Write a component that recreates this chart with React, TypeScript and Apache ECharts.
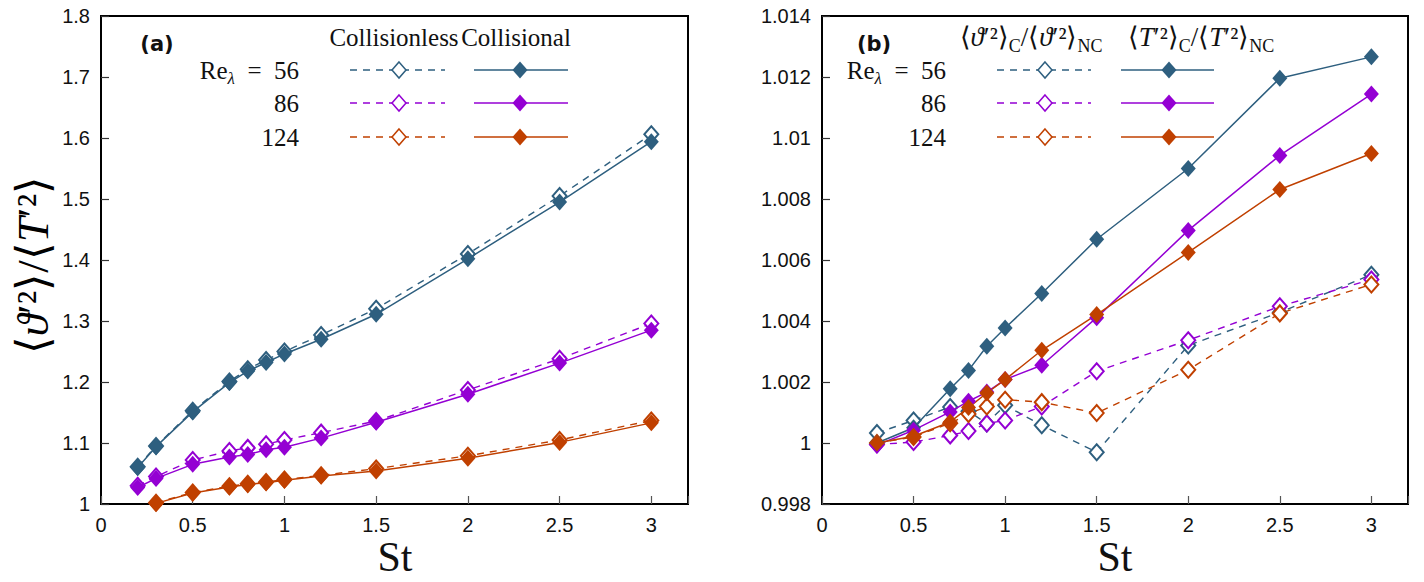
import React, { useEffect, useRef } from "react";
import * as echarts from "echarts";

// ---------- data ----------
const ST_A = [0.2, 0.3, 0.5, 0.7, 0.8, 0.9, 1.0, 1.2, 1.5, 2, 2.5, 3];
const ST_A124 = [0.3, 0.5, 0.7, 0.8, 0.9, 1.0, 1.2, 1.5, 2, 2.5, 3];
const ST_B = [0.3, 0.5, 0.7, 0.8, 0.9, 1.0, 1.2, 1.5, 2, 2.5, 3];

// panel (a): <theta'^2>/<T'^2>
const A_NC56 = [1.061, 1.095, 1.153, 1.201, 1.221, 1.236, 1.25, 1.277, 1.32, 1.41, 1.505, 1.606];
const A_C56 = [1.06, 1.094, 1.151, 1.199, 1.218, 1.232, 1.246, 1.27, 1.311, 1.402, 1.495, 1.594];
const A_NC86 = [1.03, 1.045, 1.072, 1.087, 1.092, 1.098, 1.105, 1.117, 1.136, 1.187, 1.238, 1.296];
const A_C86 = [1.027, 1.042, 1.065, 1.077, 1.081, 1.089, 1.093, 1.108, 1.134, 1.18, 1.231, 1.285];
const A_NC124 = [1.002, 1.019, 1.029, 1.033, 1.036, 1.04, 1.047, 1.058, 1.079, 1.105, 1.137];
const A_C124 = [1.001, 1.018, 1.028, 1.032, 1.035, 1.039, 1.046, 1.054, 1.075, 1.101, 1.133];

// panel (b): collisional / non-collisional ratios
const B_TH56 = [1.00033, 1.00074, 1.00118, 1.00104, 1.00064, 1.00124, 1.00058, 0.9997, 1.0032, 1.00428, 1.00552];
const B_T56 = [1.0, 1.0005, 1.00178, 1.00238, 1.00317, 1.00377, 1.0049, 1.00668, 1.009, 1.01196, 1.01266];
const B_TH86 = [0.99995, 1.00003, 1.00025, 1.00039, 1.00064, 1.00074, 1.0012, 1.00235, 1.00337, 1.00448, 1.00536];
const B_T86 = [0.99993, 1.00042, 1.00102, 1.00137, 1.00167, 1.00208, 1.00255, 1.00411, 1.00697, 1.00943, 1.01144];
const B_TH124 = [1.0, 1.0002, 1.00065, 1.00095, 1.0012, 1.00142, 1.00134, 1.00098, 1.0024, 1.00425, 1.0052];
const B_T124 = [1.0, 1.00022, 1.00069, 1.00116, 1.00164, 1.00208, 1.00304, 1.00421, 1.00625, 1.00831, 1.00949];

const RE_LABELS = ["56", "86", "124"];
const COLORS = ["#2e5f7f", "#9400d3", "#c04000"];
const X_TICKS_MAX = 3;

const SERIF = "Liberation Serif";
const SANS = "Liberation Sans";

const pairs = (xs: number[], ys: number[]) => xs.map((x, i) => [x, ys[i]]);

const DASH = [7, 6];

function hollow(xi: number, data: number[][], color: string) {
  return {
    type: "line",
    xAxisIndex: xi,
    yAxisIndex: xi,
    data,
    symbol: "emptyDiamond",
    symbolSize: [14, 16],
    lineStyle: { color, width: 1.4, type: DASH },
    itemStyle: { color, borderColor: color, borderWidth: 1.5 },
    emphasis: { disabled: true },
    z: 2,
  };
}
function filled(xi: number, data: number[][], color: string) {
  return {
    type: "line",
    xAxisIndex: xi,
    yAxisIndex: xi,
    data,
    symbol: "diamond",
    symbolSize: [15, 17],
    lineStyle: { color, width: 1.5, type: "solid" },
    itemStyle: { color, borderWidth: 0 },
    emphasis: { disabled: true },
    z: 3,
  };
}

const fmt = (v: number) => String(parseFloat(v.toFixed(4)));

function xAxis(gi: number) {
  return {
    type: "value",
    gridIndex: gi,
    min: 0,
    max: 3.2,
    interval: 0.5,
    axisLine: { show: true, onZero: false, lineStyle: { color: "#000", width: 2 } },
    axisTick: { show: true, inside: true, length: 8, lineStyle: { color: "#555", width: 1.2 } },
    axisLabel: {
      margin: 11,
      fontFamily: SANS,
      fontSize: 20,
      color: "#111",
      formatter: (v: number) => (v > X_TICKS_MAX + 0.01 ? "" : fmt(v)),
    },
    splitLine: { show: false },
  };
}
function yAxis(gi: number, min: number, max: number, interval: number) {
  return {
    type: "value",
    gridIndex: gi,
    min,
    max,
    interval,
    axisLine: { show: true, onZero: false, lineStyle: { color: "#000", width: 2 } },
    axisTick: { show: true, inside: true, length: 8, lineStyle: { color: "#333", width: 1.2 } },
    axisLabel: { margin: 11, fontFamily: SANS, fontSize: 20, color: "#111", formatter: fmt },
    splitLine: { show: false },
  };
}

function richSet(size: number) {
  const sub = Math.round(size * 0.68);
  return {
    n: { fontFamily: SERIF, fontSize: size, color: "#111", lineHeight: size + 8 },
    i: { fontFamily: SERIF, fontSize: size, fontStyle: "italic", color: "#111", lineHeight: size + 8 },
    s: { fontFamily: SERIF, fontSize: sub, color: "#111", lineHeight: 12, verticalAlign: "bottom" },
    si: { fontFamily: SERIF, fontSize: sub, fontStyle: "italic", color: "#111", lineHeight: 12, verticalAlign: "bottom" },
  };
}

function legendGraphics(cfg: {
  tag: string; tagX: number;
  headers: { text: string; x: number; size: number }[];
  labelRight: number; dashX: [number, number]; dashMark: number;
  solidX: [number, number]; solidMark: number;
}) {
  const els: any[] = [];
  const rowsY = [70, 103, 137];
  const rowRich = richSet(25);
  els.push({
    type: "text", x: cfg.tagX, y: 44,
    style: { text: cfg.tag, fontFamily: "DejaVu Sans", fontWeight: "bold", fontSize: 21, fill: "#111", align: "center", verticalAlign: "middle" },
  });
  cfg.headers.forEach((h) => {
    els.push({
      type: "text", x: h.x, y: 37,
      style: { text: h.text, rich: richSet(h.size), fontFamily: SERIF, fontSize: h.size, fill: "#111", align: "center", verticalAlign: "middle" },
    });
  });
  RE_LABELS.forEach((re, k) => {
    const y = rowsY[k];
    const c = COLORS[k];
    const txt = k === 0 ? `{n|Re}{si|λ}{n|\u2002=\u2002${re}}` : `{n|${re}}`;
    els.push({
      type: "text", x: cfg.labelRight, y,
      style: { text: txt, rich: rowRich, fontFamily: SERIF, fontSize: 25, fill: "#111", align: "right", verticalAlign: "middle" },
    });
    els.push({
      type: "line", shape: { x1: cfg.dashX[0], y1: y, x2: cfg.dashX[1], y2: y },
      style: { stroke: c, lineWidth: 1.4, lineDash: DASH },
    });
    const m = cfg.dashMark;
    els.push({
      type: "polygon", shape: { points: [[m, y - 8], [m + 7, y], [m, y + 8], [m - 7, y]] },
      style: { fill: "#fff", stroke: c, lineWidth: 1.5 },
    });
    els.push({
      type: "line", shape: { x1: cfg.solidX[0], y1: y, x2: cfg.solidX[1], y2: y },
      style: { stroke: c, lineWidth: 1.5 },
    });
    const s = cfg.solidMark;
    els.push({
      type: "polygon", shape: { points: [[s, y - 8.5], [s + 7.5, y], [s, y + 8.5], [s - 7.5, y]] },
      style: { fill: c },
    });
  });
  return els;
}

export default function App() {
  const ref = useRef<HTMLDivElement>(null);
  useEffect(() => {
    if (!ref.current) return;
    const chart = echarts.init(ref.current, undefined, { renderer: "svg" });

    const graphic: any[] = [
      ...legendGraphics({
        tag: "(a)", tagX: 157,
        headers: [
          { text: "Collisionless", x: 394, size: 25 },
          { text: "Collisional", x: 516, size: 25 },
        ],
        labelRight: 299, dashX: [350, 445], dashMark: 399, solidX: [474, 568], solidMark: 520,
      }),
      ...legendGraphics({
        tag: "(b)", tagX: 874,
        headers: [
          { text: "{n|⟨}{i|ϑ}{n|′²⟩}{s|C}{n|/⟨}{i|ϑ}{n|′²⟩}{s|NC}", x: 1031, size: 27 },
          { text: "{n|⟨}{i|T}{n|′²⟩}{s|C}{n|/⟨}{i|T}{n|′²⟩}{s|NC}", x: 1201, size: 27 },
        ],
        labelRight: 946, dashX: [997, 1091], dashMark: 1045, solidX: [1121, 1214], solidMark: 1169,
      }),
      {
        type: "text", x: 33, y: 265, rotation: Math.PI / 2,
        style: {
          text: "{n|⟨}{i|ϑ}{n|′²⟩/⟨}{i|T}{n|′²⟩}",
          rich: {
            n: { fontFamily: SERIF, fontSize: 45, color: "#111" },
            i: { fontFamily: SERIF, fontSize: 45, fontStyle: "italic", color: "#111" },
          },
          align: "center", verticalAlign: "middle",
        },
      },
      {
        type: "text", x: 395, y: 557,
        style: { text: "St", fontFamily: SERIF, fontSize: 42, fill: "#111", align: "center", verticalAlign: "middle" },
      },
      {
        type: "text", x: 1115, y: 557,
        style: { text: "St", fontFamily: SERIF, fontSize: 42, fill: "#111", align: "center", verticalAlign: "middle" },
      },
    ];

    chart.setOption({
      animation: false,
      backgroundColor: "#fff",
      grid: [
        { left: 101, top: 16, width: 587, height: 488, show: true, borderColor: "#000", borderWidth: 2, backgroundColor: "transparent" },
        { left: 822, top: 16, width: 586, height: 488, show: true, borderColor: "#000", borderWidth: 2, backgroundColor: "transparent" },
      ],
      xAxis: [xAxis(0), xAxis(1)],
      yAxis: [yAxis(0, 1, 1.8, 0.1), yAxis(1, 0.998, 1.014, 0.002)],
      series: [
        hollow(0, pairs(ST_A, A_NC56), COLORS[0]),
        hollow(0, pairs(ST_A, A_NC86), COLORS[1]),
        hollow(0, pairs(ST_A124, A_NC124), COLORS[2]),
        filled(0, pairs(ST_A, A_C56), COLORS[0]),
        filled(0, pairs(ST_A, A_C86), COLORS[1]),
        filled(0, pairs(ST_A124, A_C124), COLORS[2]),
        hollow(1, pairs(ST_B, B_TH56), COLORS[0]),
        hollow(1, pairs(ST_B, B_TH86), COLORS[1]),
        hollow(1, pairs(ST_B, B_TH124), COLORS[2]),
        filled(1, pairs(ST_B, B_T56), COLORS[0]),
        filled(1, pairs(ST_B, B_T86), COLORS[1]),
        filled(1, pairs(ST_B, B_T124), COLORS[2]),
      ],
      graphic,
    });
    return () => chart.dispose();
  }, []);
  return (
    <div
      ref={ref}
      style={{ position: "fixed", left: 0, top: 0, width: 1424, height: 582, background: "#fff" }}
    />
  );
}
